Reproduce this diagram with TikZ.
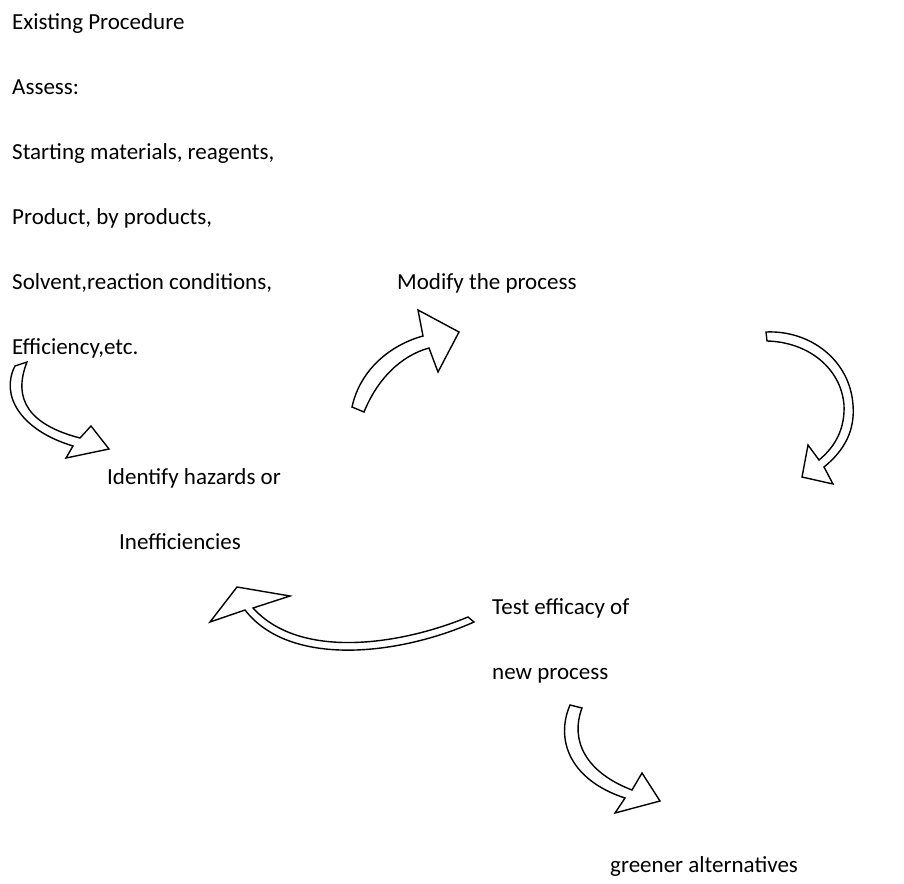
\documentclass[tikz,border=0pt]{standalone}
\usepackage{fontspec}
\setmainfont{Carlito}
\usepackage{tikz}

\tikzset{
  txt/.style={anchor=base west,inner sep=0pt,font=\fontsize{23}{28}\selectfont},
  blockarrow/.style={draw=black,fill=white,line width=1.4pt,line join=miter}
}

\begin{document}
\begin{tikzpicture}[x=1pt,y=-1pt]
\useasboundingbox (0,0) rectangle (904,883);
% texts
\node[txt] (exist) at (12,29.5) {Existing Procedure};
\node[txt] (assess) at (12,94.5) {Assess:};
\node[txt] (start) at (12,159.5) {Starting materials, reagents,};
\node[txt] (prod) at (12,224.5) {Product, by products,};
\node[txt] (solv) at (12,289.5) {Solvent,reaction conditions,};
\node[txt] (effic) at (12,354.5) {Efficiency,etc.};
\node[txt] (modify) at (397,289.5) {Modify the process};
\node[txt] (ident) at (107,484.5) {Identify hazards or};
\node[txt] (ineff) at (119,549.5) {Inefficiencies};
\node[txt] (test) at (492,614.5) {Test efficacy of};
\node[txt] (newp) at (492,679.5) {new process};
\node[txt] (green) at (610,872) {greener alternatives};
% curved block arrows
\draw[blockarrow] (15,366) .. controls (0,395) and (20,430) .. (73,446) -- (66,458) -- (109,449)
  -- (91,426) -- (80,438) .. controls (30,425) and (12,400) .. (27,362) -- cycle;
\draw[blockarrow] (352,407) .. controls (360,370) and (390,345) .. (423,336) -- (418,310) -- (459,332)
  -- (438,372) -- (429,348) .. controls (400,356) and (377,380) .. (364,412) -- cycle;
\draw[blockarrow] (766,332) .. controls (810,330) and (850,360) .. (853,405) .. controls (855,430) and (845,450) .. (824,467)
  -- (833,484) -- (802,477) -- (808,445) -- (819,460) .. controls (836,446) and (845,428) .. (844,405)
  .. controls (841,368) and (808,342) .. (767,341) -- cycle;
\draw[blockarrow] (468,617) .. controls (400,645) and (300,660) .. (253,608) -- (290,596) -- (237,587)
  -- (210,622) -- (245,610) .. controls (290,668) and (400,655) .. (474,622) -- cycle;
\draw[blockarrow] (570,705) .. controls (555,740) and (570,780) .. (625,798) -- (615,813) -- (660,801)
  -- (642,773) -- (632,790) .. controls (585,772) and (570,740) .. (582,708) -- cycle;
\end{tikzpicture}
\end{document}
